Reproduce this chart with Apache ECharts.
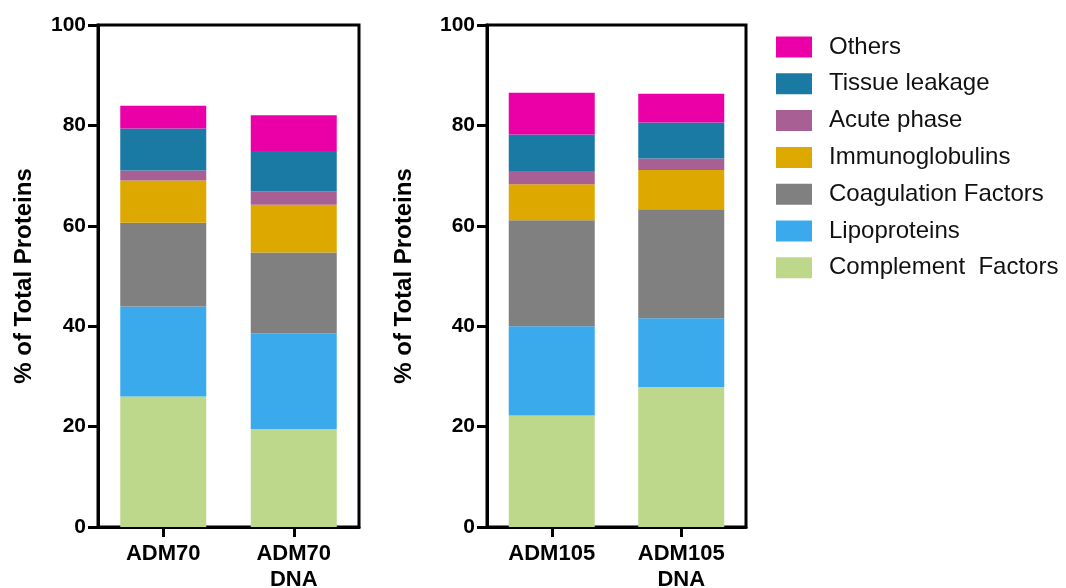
<!DOCTYPE html>
<html>
<head>
<meta charset="utf-8">
<script src="https://cdn.jsdelivr.net/npm/echarts@6/dist/echarts.min.js"></script>
<style>
html,body{margin:0;padding:0;background:#fff;}
#chart{width:1066px;height:588px;}
</style>
</head>
<body>
<div id="chart"></div>
<script>
// Data (stacked % of total proteins, bottom to top)
const categoriesLeft = ['ADM70', 'ADM70\nDNA'];
const categoriesRight = ['ADM105', 'ADM105\nDNA'];
const seriesNames = ['Complement Factors', 'Lipoproteins', 'Coagulation Factors', 'Immunoglobulins', 'Acute phase', 'Tissue leakage', 'Others'];
const legendOrder = ['Others', 'Tissue leakage', 'Acute phase', 'Immunoglobulins', 'Coagulation Factors', 'Lipoproteins', 'Complement Factors'];
const complementLeft = [26.0, 19.5];
const lipoLeft = [17.9, 19.1];
const coagLeft = [16.7, 16.1];
const immunoLeft = [8.4, 9.5];
const acuteLeft = [2.0, 2.7];
const tissueLeft = [8.4, 8.0];
const othersLeft = [4.5, 7.1];
const complementRight = [22.2, 27.9];
const lipoRight = [17.8, 13.7];
const coagRight = [21.1, 21.7];
const immunoRight = [7.2, 7.8];
const acuteRight = [2.6, 2.3];
const tissueRight = [7.3, 7.2];
const othersRight = [8.3, 5.7];
const yTicks = [0, 20, 40, 60, 80, 100];

const colors = {
  'Complement Factors': '#BDD88B',
  'Lipoproteins': '#3BAAEC',
  'Coagulation Factors': '#808080',
  'Immunoglobulins': '#DDA900',
  'Acute phase': '#A86094',
  'Tissue leakage': '#1B7AA4',
  'Others': '#EB00A8'
};
const leftData = [complementLeft, lipoLeft, coagLeft, immunoLeft, acuteLeft, tissueLeft, othersLeft];
const rightData = [complementRight, lipoRight, coagRight, immunoRight, acuteRight, tissueRight, othersRight];

const font = 'Liberation Sans, Arial, sans-serif';
function xAxis(idx, cats) {
  return {
    type: 'category', gridIndex: idx, data: cats,
    axisLine: {show: true, lineStyle: {color: '#000', width: 3}},
    axisTick: {show: true, alignWithLabel: true, length: 10, lineStyle: {color: '#000', width: 3}},
    axisLabel: {color: '#000', fontFamily: font, fontWeight: 'bold', fontSize: 22, lineHeight: 26, margin: 14}
  };
}
function yAxis(idx, gap) {
  return {
    type: 'value', gridIndex: idx, min: 0, max: 100, interval: 20,
    name: '% of Total Proteins', nameLocation: 'middle', nameRotate: 90, nameGap: gap,
    nameTextStyle: {color: '#000', fontFamily: font, fontWeight: 'bold', fontSize: 24},
    splitLine: {show: false},
    axisLine: {show: true, lineStyle: {color: '#000', width: 3}},
    axisTick: {show: true, length: 10, lineStyle: {color: '#000', width: 3}},
    axisLabel: {color: '#000', fontFamily: font, fontWeight: 'bold', fontSize: 21, margin: 12,
      formatter: v => yTicks.includes(v) ? String(v) : ''}
  };
}
const series = [];
[leftData, rightData].forEach((data, gi) => {
  seriesNames.forEach((name, i) => {
    series.push({
      name: name, type: 'bar', stack: 'g' + gi, xAxisIndex: gi, yAxisIndex: gi,
      data: data[i], barWidth: 86,
      itemStyle: {color: colors[name]},
      emphasis: {disabled: true}
    });
  });
});

const chart = echarts.init(document.getElementById('chart'), null, {renderer: 'canvas'});
chart.setOption({
  animation: false,
  backgroundColor: '#fff',
  grid: [
    {left: 98, top: 25, width: 261, height: 502, show: true, borderColor: '#000', borderWidth: 3, backgroundColor: 'transparent', containLabel: false, outerBoundsMode: 'none'},
    {left: 487, top: 25, width: 259, height: 502, show: true, borderColor: '#000', borderWidth: 3, backgroundColor: 'transparent', containLabel: false, outerBoundsMode: 'none'}
  ],
  xAxis: [xAxis(0, categoriesLeft), xAxis(1, categoriesRight)],
  yAxis: [yAxis(0, 62), yAxis(1, 71)],
  legend: {
    orient: 'vertical', left: 776, top: 35, padding: 0, itemWidth: 36, itemHeight: 21, itemGap: 12.8,
    icon: 'rect', data: legendOrder,
    formatter: n => n === 'Complement Factors' ? 'Complement  Factors' : n,
    textStyle: {color: '#111', fontFamily: font, fontSize: 24, lineHeight: 21, padding: [0, 0, 0, 12]}
  },
  series: series
});
</script>
</body>
</html>
